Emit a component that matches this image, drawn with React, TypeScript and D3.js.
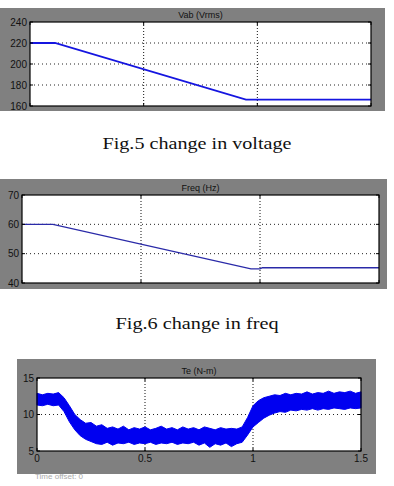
import React from "react";
import * as d3 from "d3";

// ---- Data ----
const voltTime = [0, 0.11, 0.95, 1.5];
const voltValue = [220, 220, 166, 166];
const voltTicks = [240, 220, 200, 180, 160];

const freqTime = [0, 0.13, 0.962, 1.0, 1.01, 1.5];
const freqValue = [60, 60, 44.8, 44.8, 45.2, 45.2];
const freqTicks = [70, 60, 50, 40];

const teTime = [0, 0.025, 0.05, 0.075, 0.1, 0.125, 0.15, 0.175, 0.2, 0.225, 0.25, 0.275, 0.3, 0.325, 0.35, 0.375, 0.4, 0.425, 0.45, 0.475, 0.5, 0.525, 0.55, 0.575, 0.6, 0.625, 0.65, 0.675, 0.7, 0.725, 0.75, 0.775, 0.8, 0.825, 0.85, 0.875, 0.9, 0.925, 0.95, 0.975, 1.0, 1.025, 1.05, 1.075, 1.1, 1.125, 1.15, 1.175, 1.2, 1.225, 1.25, 1.275, 1.3, 1.325, 1.35, 1.375, 1.4, 1.425, 1.45, 1.475, 1.5];
const teLow = [11.3, 11.2, 11.4, 11.2, 11.3, 10.4, 9.0, 7.9, 7.1, 6.6, 6.3, 6.0, 5.9, 6.2, 5.8, 6.1, 6.0, 6.2, 5.9, 6.1, 6.0, 6.2, 5.9, 6.1, 6.0, 6.2, 5.9, 6.1, 6.0, 6.2, 5.8, 6.1, 5.5, 6.0, 5.8, 6.1, 5.6, 6.0, 6.2, 7.2, 8.3, 8.9, 9.5, 9.9, 10.2, 10.4, 10.3, 10.6, 10.5, 10.7, 10.6, 10.8, 10.6, 10.8, 10.7, 10.9, 10.8, 10.7, 10.9, 10.8, 10.9];
const teHigh = [12.9, 12.7, 12.9, 12.8, 13.0, 12.3, 11.2, 10.0, 9.3, 8.8, 8.9, 8.4, 8.6, 8.1, 8.3, 8.0, 8.4, 7.9, 8.2, 8.0, 8.3, 7.9, 8.1, 8.4, 8.0, 8.2, 7.9, 8.3, 8.0, 8.2, 7.9, 8.3, 8.1, 7.9, 8.2, 8.0, 8.1, 8.0, 8.3, 9.6, 11.2, 11.9, 12.3, 12.5, 12.7, 12.6, 12.9, 12.7, 12.9, 12.8, 13.1, 12.8, 13.0, 12.9, 13.2, 12.9, 13.1, 13.0, 13.2, 12.9, 13.1];
const teTicks = [15, 10, 5];
const xTicks = [0, 0.5, 1, 1.5];
const xTickLabels = ["0", "0.5", "1", "1.5"];

const titles = ["Vab (Vrms)", "Freq (Hz)", "Te (N-m)"];
const captions = ["Fig.5 change in voltage", "Fig.6 change in freq"];

const GRAY = "#808080";

type Box = { gx0: number; gx1: number; gy0: number; gy1: number; x0: number; x1: number; y0: number; y1: number };

function Frame({ box, title, yTicks, y, x, xLabels }: any) {
  const b: Box = box;
  return (
    <g>
      <rect x={b.gx0} y={b.gy0} width={b.gx1 - b.gx0} height={b.gy1 - b.gy0} fill={GRAY} />
      <rect x={b.x0} y={b.y0} width={b.x1 - b.x0} height={b.y1 - b.y0} fill="#fff" />
      <text x={(b.x0 + b.x1) / 2} y={b.y0 - 4} textAnchor="middle" fontFamily="Liberation Sans, Arial, sans-serif" fontSize={9} fill="#111">{title}</text>
      {yTicks.slice(1, -1).map((t: number) => (
        <line key={"gy" + t} x1={b.x0} x2={b.x1} y1={y(t)} y2={y(t)} stroke="#222" strokeWidth={1} strokeDasharray="1,3" />
      ))}
      {xTicks.slice(1, -1).map((t: number) => (
        <line key={"gx" + t} x1={x(t)} x2={x(t)} y1={b.y0} y2={b.y1} stroke="#111" strokeWidth={1} strokeDasharray="1,2" />
      ))}
      {yTicks.map((t: number) => (
        <text key={"yl" + t} x={b.x0 - 3} y={y(t)} dy="0.35em" textAnchor="end" fontFamily="Liberation Sans, Arial, sans-serif" fontSize={10} fill="#111">{t}</text>
      ))}
      {xLabels && xTicks.map((t: number, i: number) => (
        <text key={"xl" + t} x={x(t)} y={b.y1 + 11} textAnchor="middle" fontFamily="Liberation Sans, Arial, sans-serif" fontSize={10} fill="#111">{xTickLabels[i]}</text>
      ))}
    </g>
  );
}

function Border({ box, y, x, yTicks }: any) {
  const b: Box = box;
  return (
    <g>
      <rect x={b.x0} y={b.y0} width={b.x1 - b.x0} height={b.y1 - b.y0} fill="none" stroke="#000" strokeWidth={1.2} />
      {yTicks.map((t: number) => (
        <g key={"tk" + t}>
          <line x1={b.x1 - 3} x2={b.x1} y1={y(t)} y2={y(t)} stroke="#000" />
          <line x1={b.x0} x2={b.x0 + 3} y1={y(t)} y2={y(t)} stroke="#000" />
        </g>
      ))}
      {xTicks.map((t: number) => (
        <g key={"tx" + t}>
          <line x1={x(t)} x2={x(t)} y1={b.y1 - 3} y2={b.y1} stroke="#000" />
          <line x1={x(t)} x2={x(t)} y1={b.y0} y2={b.y0 + 3} stroke="#000" />
        </g>
      ))}
    </g>
  );
}

export default function App() {
  const b1: Box = { gx0: 0, gx1: 385, gy0: 8, gy1: 111, x0: 30, x1: 371, y0: 22, y1: 106 };
  const x1 = d3.scaleLinear().domain([0, 1.5]).range([b1.x0, b1.x1]);
  const y1 = d3.scaleLinear().domain([160, 240]).range([b1.y1, b1.y0]);
  const volt = d3.line<number>().x((_, i) => x1(voltTime[i])).y((d) => y1(d))(voltValue) || "";

  const b2: Box = { gx0: 0, gx1: 387, gy0: 179, gy1: 289, x0: 22, x1: 379, y0: 195, y1: 283 };
  const x2 = d3.scaleLinear().domain([0, 1.5]).range([b2.x0, b2.x1]);
  const y2 = d3.scaleLinear().domain([40, 70]).range([b2.y1, b2.y0]);
  const freq = d3.line<number>().x((_, i) => x2(freqTime[i])).y((d) => y2(d))(freqValue) || "";

  const b3: Box = { gx0: 17, gx1: 376, gy0: 359, gy1: 474, x0: 37, x1: 361, y0: 378, y1: 451 };
  const x3 = d3.scaleLinear().domain([0, 1.5]).range([b3.x0, b3.x1]);
  const y3 = d3.scaleLinear().domain([5, 15]).range([b3.y1, b3.y0]);
  const te = d3.area<number>().x((_, i) => x3(teTime[i])).y0((_, i) => y3(teLow[i])).y1((_, i) => y3(teHigh[i]))(teTime) || "";

  return (
    <div style={{ position: "absolute", left: 0, top: 0 }}>
      <svg width={394} height={486} style={{ display: "block" }}>
        <rect width={394} height={486} fill="#fff" />
        <Frame box={b1} title={titles[0]} yTicks={voltTicks} y={y1} x={x1} />
        <path d={volt} fill="none" stroke="#1515e0" strokeWidth={1.8} />
        <Border box={b1} y={y1} x={x1} yTicks={voltTicks} />
        <text x={197} y={149} textAnchor="middle" fontFamily="Liberation Serif, serif" fontSize={17} textLength={189} lengthAdjust="spacingAndGlyphs" fill="#111">{captions[0]}</text>

        <Frame box={b2} title={titles[1]} yTicks={freqTicks} y={y2} x={x2} />
        <path d={freq} fill="none" stroke="#2a2aa8" strokeWidth={1.3} />
        <Border box={b2} y={y2} x={x2} yTicks={freqTicks} />
        <text x={197} y={329} textAnchor="middle" fontFamily="Liberation Serif, serif" fontSize={17} textLength={163} lengthAdjust="spacingAndGlyphs" fill="#111">{captions[1]}</text>

        <Frame box={b3} title={titles[2]} yTicks={teTicks} y={y3} x={x3} xLabels />
        <path d={te} fill="#0000f0" stroke="#0000f0" strokeWidth={1} strokeLinejoin="miter" />
        <Border box={b3} y={y3} x={x3} yTicks={teTicks} />
        <text x={35} y={479} fontFamily="Liberation Sans, Arial, sans-serif" fontSize={8} fill="#aaa">Time offset: 0</text>
      </svg>
    </div>
  );
}
